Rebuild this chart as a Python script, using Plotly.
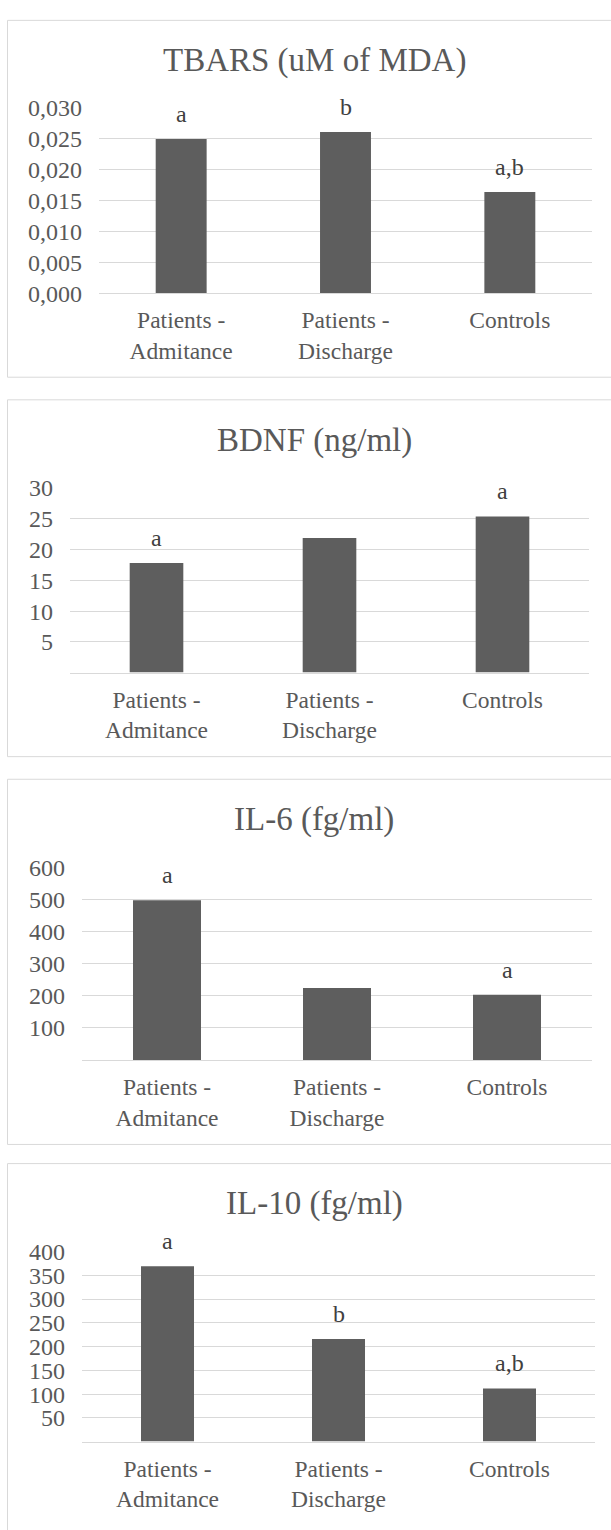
import plotly.graph_objects as go

W, H = 611, 1530

categories = ["Patients -<br>Admitance", "Patients -<br>Discharge", "Controls"]

tbars_values = [0.0250, 0.0261, 0.0164]
bdnf_values = [17.8, 21.9, 25.4]
il6_values = [498, 224, 203]
il10_values = [369, 216, 112]

tbars_letters = ["a", "b", "a,b"]
bdnf_letters = ["a", "", "a"]
il6_letters = ["a", "", "a"]
il10_letters = ["a", "b", "a,b"]

tbars_ticks = [0, 0.005, 0.010, 0.015, 0.020, 0.025, 0.030]
tbars_ticktext = ["0,000", "0,005", "0,010", "0,015", "0,020", "0,025", "0,030"]
bdnf_ticks = [0, 5, 10, 15, 20, 25, 30]
bdnf_ticktext = ["", "5", "10", "15", "20", "25", "30"]
il6_ticks = [0, 100, 200, 300, 400, 500, 600]
il6_ticktext = ["", "100", "200", "300", "400", "500", "600"]
il10_ticks = [0, 50, 100, 150, 200, 250, 300, 350, 400]
il10_ticktext = ["", "50", "100", "150", "200", "250", "300", "350", "400"]

titles = ["TBARS (uM of MDA)", "BDNF (ng/ml)", "IL-6 (fg/ml)", "IL-10 (fg/ml)"]

FONT = "Liberation Serif"
TXT = "#595959"
GRID = "#d9d9d9"
BAR = "#5e5e5e"

panels = [
    dict(values=tbars_values, letters=tbars_letters, ticks=tbars_ticks, ticktext=tbars_ticktext,
         x0=99, x1=592, yt=96.7, yb=285, pt=7.5, pb=370.5, bw=0.31),
    dict(values=bdnf_values, letters=bdnf_letters, ticks=bdnf_ticks, ticktext=bdnf_ticktext,
         x0=70, x1=589, yt=483.3, yb=671, pt=393.5, pb=756.5, bw=0.31),
    dict(values=il6_values, letters=il6_letters, ticks=il6_ticks, ticktext=il6_ticktext,
         x0=82, x1=592, yt=869.3, yb=1065, pt=779.5, pb=1151, bw=0.40),
    dict(values=il10_values, letters=il10_letters, ticks=il10_ticks, ticktext=il10_ticktext,
         x0=82, x1=595, yt=1260, yb=1453.3, pt=1170.5, pb=1545, bw=0.31),
]

def px(x):
    return x / W

def py(y):
    return 1 - y / H

fig = go.Figure()
layout = dict(
    width=W, height=H,
    margin=dict(l=0, r=0, t=0, b=0),
    paper_bgcolor="white", plot_bgcolor="white",
    showlegend=False,
    font=dict(family=FONT, color=TXT, size=24),
)
shapes = []
annotations = []

for i, p in enumerate(panels):
    n = "" if i == 0 else str(i + 1)
    xa, ya = "x" + n, "y" + n
    fig.add_trace(go.Bar(
        x=categories, y=p["values"], xaxis=xa, yaxis=ya,
        marker=dict(color=BAR, line=dict(width=0)), width=p["bw"],
        hoverinfo="skip",
    ))
    layout["xaxis" + n] = dict(
        domain=[px(p["x0"]), px(p["x1"])], anchor=ya,
        type="category", showgrid=False, zeroline=False,
        showline=True, linecolor=GRID, linewidth=1,
        ticks="", tickfont=dict(family=FONT, size=23.5, color=TXT),
        ticklabelstandoff=6, fixedrange=True,
    )
    layout["yaxis" + n] = dict(
        domain=[py(p["yb"]), py(p["yt"])], anchor=xa,
        range=[0, p["ticks"][-1]], tickmode="array",
        tickvals=p["ticks"], ticktext=p["ticktext"],
        showgrid=True, gridcolor=GRID, gridwidth=1, zeroline=False,
        showline=False, ticks="", tickfont=dict(family=FONT, size=24, color=TXT),
        ticklabelstandoff=16, fixedrange=True,
    )
    shapes.append(dict(type="rect", xref="paper", yref="paper",
                       x0=px(7.5), x1=px(640), y0=py(p["pb"]), y1=py(p["pt"]),
                       line=dict(color=GRID, width=1), fillcolor="rgba(0,0,0,0)", layer="below"))
    annotations.append(dict(text=titles[i], xref="paper", yref="paper",
                            x=px(314), y=py(p["pt"] + 41), xanchor="center", yanchor="middle",
                            showarrow=False, font=dict(family=FONT, size=33, color=TXT)))
    for c, v, lt in zip(categories, p["values"], p["letters"]):
        if lt:
            annotations.append(dict(text=lt, xref=xa, yref=ya, x=c, y=v,
                                    xanchor="center", yanchor="bottom", yshift=10,
                                    showarrow=False,
                                    font=dict(family=FONT, size=24, color="#404040")))

layout["shapes"] = shapes
layout["annotations"] = annotations
fig.update_layout(**layout)
fig.write_html("out.html", config={"displayModeBar": False},
               post_script="document.body.style.margin='0';document.body.style.overflow='hidden';")
